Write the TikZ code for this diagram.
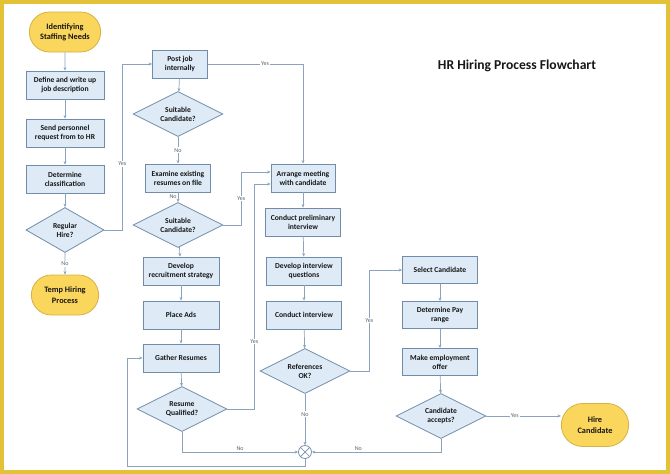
\documentclass[tikz,border=0pt]{standalone}
\usepackage{fontspec}
\setmainfont{Carlito}
\definecolor{FrameGold}{RGB}{228,194,56}
\definecolor{BoxFill}{RGB}{222,235,247}
\definecolor{BoxEdge}{RGB}{112,140,168}
\definecolor{FlowLine}{RGB}{138,164,192}
\definecolor{TermFill}{RGB}{250,214,92}
\definecolor{TermEdge}{RGB}{212,178,72}
\definecolor{InkDark}{RGB}{22,22,22}
\definecolor{TagGray}{RGB}{96,96,96}
\usepackage{tikz}
\usetikzlibrary{positioning,shapes.geometric,shapes.misc,arrows.meta}
\tikzset{
    procbox/.style={draw=BoxEdge,fill=BoxFill,line width=0.8pt,minimum height=28pt,
        inner sep=1pt,align=center,text=InkDark,font=\bfseries\fontsize{7.6}{9.2}\selectfont},
    decbox/.style={diamond,aspect=2,draw=BoxEdge,fill=BoxFill,line width=0.8pt,
        minimum width=90pt,minimum height=45pt,inner sep=0pt,align=center,text=InkDark,
        font=\bfseries\fontsize{7.6}{9.2}\selectfont},
    termbox/.style={rounded rectangle,draw=TermEdge,fill=TermFill,line width=0.8pt,
        minimum width=78pt,minimum height=40pt,align=center,text=InkDark,
        font=\bfseries\fontsize{8.3}{10.4}\selectfont},
    joinmark/.style={circle,draw=BoxEdge,fill=white,line width=0.7pt,minimum size=13pt,inner sep=0pt,
        path picture={\draw[BoxEdge,line width=0.7pt]
            (path picture bounding box.north west) -- (path picture bounding box.south east)
            (path picture bounding box.north east) -- (path picture bounding box.south west);}},
    flow/.style={draw=FlowLine,line width=0.7pt,-{Stealth[length=3.5pt,width=3pt]}},
    tag/.style={font=\fontsize{6}{7}\selectfont,text=TagGray,fill=white,inner sep=1pt}
}
\begin{document}
\begin{tikzpicture}[x=1pt,y=-1pt]
    \useasboundingbox (0,0) rectangle (670,474);
    \draw[FrameGold,line width=4pt] (2,2) rectangle (668,472);

    \node[font=\bfseries\fontsize{13.6}{16}\selectfont,text=InkDark] (title) at (517,66) {HR Hiring Process Flowchart};

    \node[termbox] (needs) at (65,32) {Identifying\\Staffing Needs};
    \node[procbox,minimum width=78pt] (define) at (65,85) {Define and write up\\job description};
    \node[procbox,minimum width=78pt] (request) at (65,133) {Send personnel\\request from to HR};
    \node[procbox,minimum width=78pt] (classify) at (65,179) {Determine\\classification};
    \node[decbox,minimum width=78pt] (regular) at (65,230) {Regular\\Hire?};
    \node[termbox,minimum width=74pt] (temp) at (65,295) {Temp Hiring\\Process};

    \node[procbox,minimum width=55pt] (postjob) at (180,64) {Post job\\internally};
    \node[decbox] (suitA) at (178,114) {Suitable\\Candidate?};
    \node[procbox,minimum width=65pt] (examine) at (178,178) {Examine existing\\resumes on file};
    \node[decbox] (suitB) at (178,225) {Suitable\\Candidate?};
    \node[procbox,minimum width=76pt] (strategy) at (181,271) {Develop\\recruitment strategy};
    \node[procbox,minimum width=76pt] (ads) at (181,315) {Place Ads};
    \node[procbox,minimum width=76pt] (gather) at (181,358) {Gather Resumes};
    \node[decbox] (resume) at (182,409) {Resume\\Qualified?};

    \node[procbox,minimum width=64pt] (arrange) at (303,178) {Arrange meeting\\with candidate};
    \node[procbox,minimum width=75pt] (prelim) at (303,222) {Conduct preliminary\\interview};
    \node[procbox,minimum width=75pt] (questions) at (304,271) {Develop interview\\questions};
    \node[procbox,minimum width=75pt] (interview) at (304,315) {Conduct interview};
    \node[decbox] (refs) at (305,371) {References\\OK?};
    \node[joinmark] (merge) at (305,452) {};

    \node[procbox,minimum width=75pt,minimum height=27pt] (select) at (440,270) {Select Candidate};
    \node[procbox,minimum width=75pt,minimum height=27pt] (payrange) at (440,315) {Determine Pay\\range};
    \node[procbox,minimum width=75pt,minimum height=27pt] (offer) at (440,362) {Make employment\\offer};
    \node[decbox] (accepts) at (441,416) {Candidate\\accepts?};
    \node[termbox,minimum width=74pt,minimum height=43pt] (hire) at (595,425) {Hire\\Candidate};

    \coordinate (loopturn) at (127,466);

    \draw[flow] (needs) -- (define);
    \draw[flow] (define) -- (request);
    \draw[flow] (request) -- (classify);
    \draw[flow] (classify) -- (regular);
    \draw[flow] (regular) -- node[tag]{No} (temp);
    \draw[flow] (regular.east) -- ++(18,0) |- node[tag,pos=0.2]{Yes} (postjob.west);

    \draw[flow] (postjob) -- (suitA);
    \draw[flow] (postjob.east) -| node[tag,pos=0.3]{Yes} (arrange.north);
    \draw[flow] (suitA) -- node[tag]{No} (examine);
    \draw[flow] (examine) -- node[tag,left,fill=none,pos=0.45]{No} (suitB);
    \draw[flow] (suitB.east) -- ++(18,0) |- node[tag,pos=0.25]{Yes} ([yshift=6pt]arrange.west);
    \draw[flow] (suitB) -- (strategy);
    \draw[flow] (strategy) -- (ads);
    \draw[flow] (ads) -- (gather);
    \draw[flow] (gather) -- (resume);
    \draw[flow] (resume.east) -- ++(27,0) |- node[tag,pos=0.15]{Yes} ([yshift=-6pt]arrange.west);
    \draw[flow] (resume.south) |- node[tag,above,fill=none,pos=0.75]{No} (merge.west);

    \draw[flow] (arrange) -- (prelim);
    \draw[flow] (prelim) -- (questions);
    \draw[flow] (questions) -- (interview);
    \draw[flow] (interview) -- (refs);
    \draw[flow] (refs) -- node[tag,pos=0.4]{No} (merge);
    \draw[flow] (refs.east) -- ++(19,0) |- node[tag,pos=0.25]{Yes} (select.west);

    \draw[flow] (select) -- (payrange);
    \draw[flow] (payrange) -- (offer);
    \draw[flow] (offer) -- (accepts);
    \draw[flow] (accepts.east) -- node[tag,pos=0.38]{Yes} (accepts.east -| hire.west);
    \draw[flow] (accepts.south) |- node[tag,above,fill=none,pos=0.82]{No} (merge.east);

    \draw[flow] (merge.south) |- (loopturn) |- (gather.west);
\end{tikzpicture}
\end{document}
